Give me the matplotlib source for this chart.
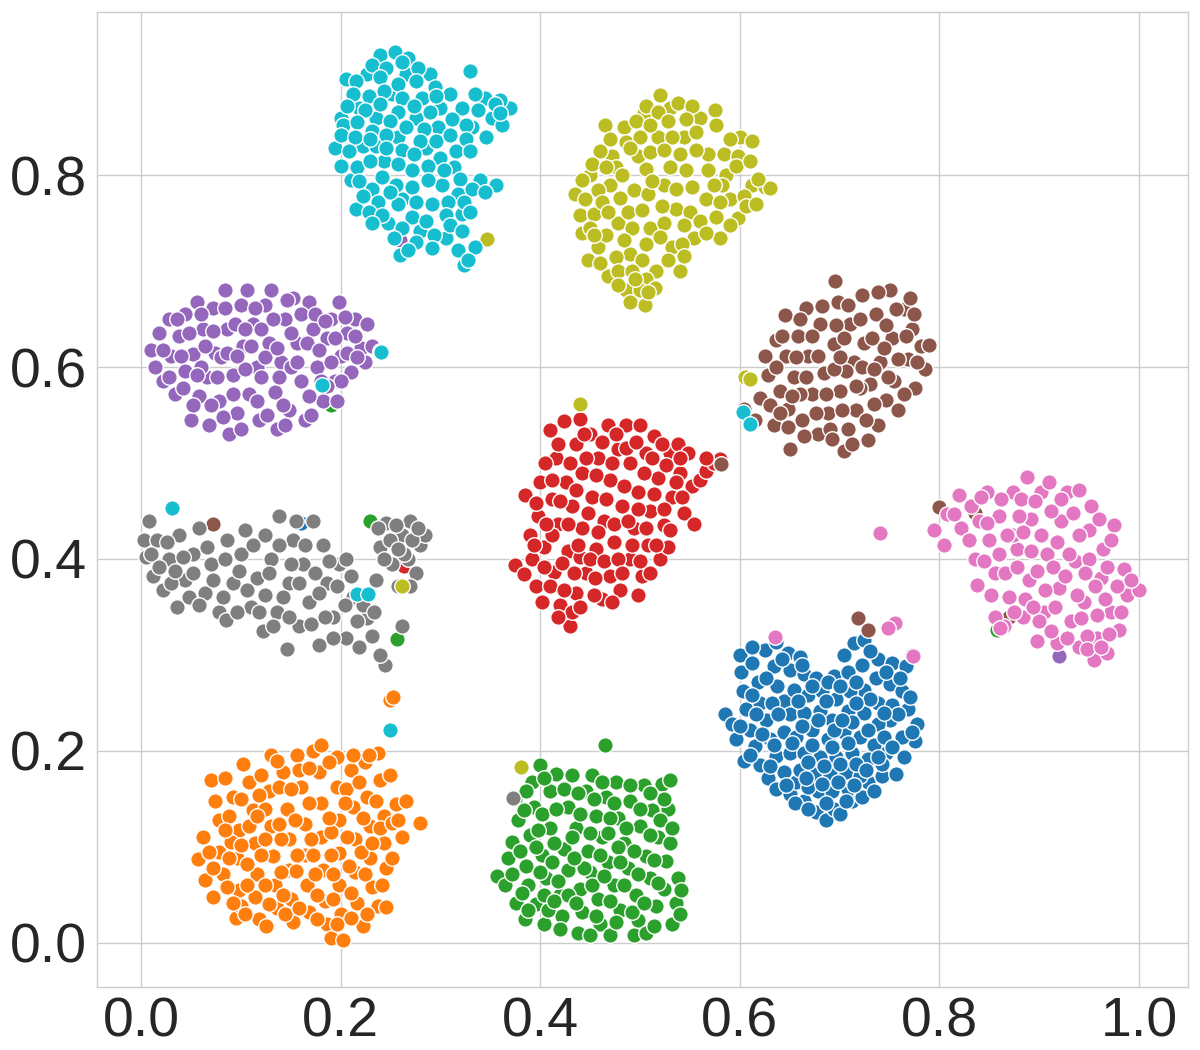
import matplotlib
matplotlib.use("Agg")
import matplotlib.pyplot as plt
import numpy as np
import seaborn as sns

# all coordinates, in thousandths of an axis unit
blue = [(585,238),(592,228),(596,212),(604,190),(600,300),(601,282),(603,262),(606,244),(610,222),(615,205),(620,185),(628,172),(636,160),(650,155),(612,292),(618,272),(620,250),(626,232),(630,212),(636,195),(644,178),(656,168),(664,148),(676,136),(686,128),(694,140),(712,148),(722,152),(728,168),(742,174),(756,176),(625,305),(636,314),(648,302),(660,298),(634,288),(637,268),(650,284),(664,280),(676,276),(644,252),(654,264),(668,258),(682,262),(694,278),(704,300),(714,312),(724,316),(738,296),(752,292),(766,288),(772,300),(708,282),(722,290),(736,276),(750,270),(762,262),(768,244),(778,228),(775,210),(762,214),(764,194),(746,198),(750,232),(738,250),(724,264),(710,262),(696,254),(650,238),(664,240),(680,242),(692,232),(708,242),(724,240),(738,228),(752,248),(644,220),(656,214),(672,222),(688,212),(704,220),(720,214),(734,206),(650,198),(664,198),(680,194),(696,194),(712,198),(728,192),(742,186),(660,180),(674,176),(690,176),(706,178),(720,174),(734,158),(678,158),(692,158),(708,160),(668,162),(655,146),(700,134),
 (612,308),(642,296),(626,276),(612,258),(632,250),(616,238),(600,226),(638,238),(622,218),(610,196),(634,206),(630,184),(646,164),(662,290),(672,268),(688,272),(700,268),(716,272),(730,304),(746,282),(760,276),(770,256),(758,238),(744,214),(772,220),(752,204),(738,194),(716,186),(700,186),(684,184),(668,188),(652,208),(662,226),(678,232),(694,222),(712,230),(728,222),(744,240),(730,254),(716,250),(702,232),(686,252),(672,206),(692,204),(708,208),(726,180),(714,164),(698,168),(682,166),(666,172),(686,146),(668,140),(706,148),(658,252)]
orange = [(57,87),(62,110),(64,65),(70,170),(72,48),(74,148),(78,128),(78,95),(82,72),(84,172),(92,152),(95,26),(98,118),(96,88),(98,55),(100,38),(102,186),(108,168),(112,138),(114,104),(116,72),(114,48),(118,25),(125,18),(130,196),(128,158),(130,122),(132,90),(134,60),(136,36),(142,178),(146,140),(148,108),(148,76),(150,46),(152,22),(156,196),(160,162),(164,124),(164,92),(166,60),(168,32),(172,200),(178,178),(180,146),(180,110),(182,76),(184,44),(186,20),(180,206),(190,5),(202,3),(196,194),(196,162),(198,128),(198,94),(198,60),(200,30),(210,180),(212,142),(214,108),(214,74),(216,42),(224,188),(226,152),(230,122),(230,88),(232,58),(222,18),(238,198),(240,170),(244,132),(244,104),(246,78),(238,38),(246,37),(252,88),(256,145),(262,110),(266,148),(280,125),(250,175),(120,175),(88,132),(90,105),(106,82),(124,140),(140,108),(172,92),(190,115),(220,95),(205,160),(155,75),(128,40),
 (68,95),(72,78),(84,118),(86,58),(88,88),(92,42),(104,30),(100,150),(100,102),(106,60),(108,122),(118,154),(120,92),(124,60),(124,108),(136,190),(138,162),(138,124),(140,74),(142,50),(144,30),(150,160),(154,128),(156,92),(158,36),(158,180),(168,146),(170,108),(174,72),(176,50),(176,25),(188,188),(188,130),(190,92),(192,46),(192,72),(196,20),(204,146),(206,110),(208,80),(210,52),(210,26),(218,168),(222,130),(224,72),(226,30),(232,104),(236,148),(240,120),(242,60),(228,196),(212,196),(252,125),(258,128),(168,182),(116,132)]
green = [(357,70),(365,60),(368,88),(372,105),(375,150),(378,128),(376,42),(385,25),(386,80),(388,60),(390,112),(392,168),(394,142),(396,40),(400,185),(402,92),(404,20),(406,68),(410,158),(410,120),(416,176),(420,50),(422,28),(424,98),(428,142),(428,76),(432,175),(436,120),(438,10),(440,56),(442,32),(446,158),(448,96),(450,74),(452,175),(456,132),(458,46),(460,20),(462,110),(466,152),(468,84),(470,8),(474,60),(476,168),(478,130),(480,34),(484,104),(488,78),(490,148),(494,8),(496,50),(498,24),(500,122),(504,165),(506,90),(510,68),(512,138),(516,38),(518,110),(522,166),(524,56),(526,85),(528,140),(530,170),(532,20),(536,42),(538,68),(541,55),(524,150),(506,10),(478,100),(444,78),(414,104),(398,118),(540,30),(404,50),(428,50),(470,130),(492,32),
 (372,72),(380,96),(382,52),(384,138),(386,158),(400,74),(402,134),(404,172),(408,34),(412,84),(416,140),(418,64),(420,14),(424,160),(432,110),(434,88),(436,42),(438,156),(440,134),(450,114),(452,60),(454,150),(456,28),(460,92),(462,168),(464,70),(468,114),(470,44),(474,146),(476,22),(480,84),(484,60),(486,120),(490,164),(494,96),(498,72),(500,140),(504,42),(510,112),(514,18),(514,86),(518,62),(520,128),(530,104),(532,120),(510,156),(396,100),(414,44),(388,34),(450,8)]
red = [(375,394),(384,384),(385,467),(390,425),(392,400),(396,372),(398,445),(400,480),(402,355),(404,412),(410,534),(412,462),(414,386),(416,505),(418,436),(420,352),(424,544),(426,480),(428,408),(430,330),(432,455),(436,520),(436,365),(440,546),(442,490),(442,432),(446,385),(450,530),(452,465),(456,410),(458,505),(462,358),(464,440),(468,540),(470,482),(470,382),(474,418),(478,515),(480,368),(482,455),(486,540),(490,500),(490,400),(494,432),(498,470),(500,540),(502,382),(506,510),(508,415),(510,450),(514,528),(518,484),(520,400),(524,435),(528,412),(530,510),(532,465),(538,520),(540,490),(544,448),(548,510),(552,476),(554,436),(560,482),(566,492),(574,500),(580,504),(566,505),(405,500),(440,402),(455,380),(498,362),(412,425),
 (394,415),(396,458),(404,392),(406,436),(410,372),(412,482),(418,520),(420,460),(422,396),(424,368),(428,436),(430,500),(432,345),(434,385),(436,472),(438,415),(444,530),(446,505),(448,448),(450,400),(454,362),(456,488),(458,428),(462,522),(464,398),(466,462),(472,500),(474,436),(476,530),(478,400),(482,385),(484,476),(486,516),(488,440),(492,415),(496,522),(498,452),(500,398),(504,490),(506,432),(512,505),(514,468),(516,415),(522,520),(524,452),(526,498),(530,430),(536,480),(540,505),(542,465),(472,355),(418,340),(440,350),(510,385)]
purple = [(10,618),(14,600),(18,635),(22,585),(28,650),(30,612),(34,572),(38,632),(44,655),(44,596),(50,545),(52,614),(56,668),(58,570),(62,640),(66,590),(68,540),(72,662),(74,615),(78,565),(84,680),(86,640),(88,530),(92,592),(96,552),(100,665),(102,622),(106,680),(108,572),(112,645),(116,600),(118,545),(124,665),(128,625),(130,680),(134,574),(136,535),(140,605),(144,650),(148,555),(152,672),(156,625),(160,585),(164,545),(168,668),(172,640),(176,600),(182,565),(186,630),(190,650),(194,585),(198,668),(200,612),(206,635),(210,595),(214,650),(220,620),(226,645),(224,605),(232,622),(240,617),(196,565),(28,590),(60,600),(120,590),(150,600),(104,598),(80,610),
 (22,618),(36,650),(40,612),(42,578),(48,635),(52,560),(56,592),(60,655),(64,622),(70,560),(72,638),(76,590),(82,548),(84,662),(86,615),(92,572),(94,645),(96,612),(100,535),(104,640),(110,622),(114,662),(116,565),(120,640),(124,610),(126,550),(132,650),(136,620),(138,590),(142,560),(146,670),(150,635),(156,605),(160,655),(166,625),(168,570),(174,655),(178,618),(180,585),(184,648),(190,605),(194,630),(204,652),(206,615),(214,632),(216,610),(200,585),(186,580),(144,540),(170,550)]
brown = [(615,545),(620,568),(625,612),(628,592),(634,540),(640,575),(645,654),(646,612),(648,556),(650,515),(654,590),(658,632),(662,545),(666,662),(668,612),(672,572),(678,530),(680,645),(684,594),(688,552),(695,690),(694,624),(698,668),(700,575),(704,513),(708,535),(710,645),(714,605),(716,555),(722,675),(724,625),(728,524),(730,582),(736,655),(738,540),(740,605),(746,566),(750,680),(752,630),(754,585),(758,555),(764,660),(768,608),(772,640),(776,578),(782,622),(790,623),(786,598),(770,672),(604,556),(660,572),(706,596),(636,628),(694,598),(720,578),
 (630,560),(636,600),(642,632),(648,538),(652,570),(656,610),(660,650),(664,528),(666,590),(672,632),(676,552),(678,612),(682,664),(686,572),(690,535),(696,644),(700,610),(702,555),(704,630),(708,665),(712,520),(716,580),(720,650),(722,600),(726,545),(732,630),(734,562),(738,678),(744,620),(746,644),(748,590),(756,660),(758,608),(764,572),(766,632),(774,655),(778,605),(692,525),(640,552),(734,598)]
pink = [(795,430),(805,415),(808,447),(820,467),(822,432),(832,455),(836,400),(838,373),(848,470),(850,420),(856,385),(860,445),(865,330),(870,360),(874,470),(878,410),(884,340),(888,485),(890,378),(892,442),(902,470),(905,345),(908,405),(918,312),(920,370),(922,440),(928,470),(932,335),(936,398),(940,472),(945,355),(950,430),(955,295),(958,318),(962,380),(964,410),(975,435),(972,345),(980,326),(985,390),(988,362),(1000,368),(968,302),(940,308),(898,315),(880,445),(950,400),(912,450),(874,425),
 (815,447),(830,420),(840,440),(842,465),(845,398),(848,438),(852,362),(860,405),(862,462),(866,385),(868,425),(875,345),(878,392),(882,462),(884,428),(886,358),(892,408),(896,460),(898,388),(900,335),(902,425),(906,368),(910,480),(912,325),(914,392),(916,350),(918,418),(922,462),(926,382),(928,318),(930,405),(934,448),(938,362),(940,425),(942,338),(946,385),(948,320),(952,455),(956,372),(958,342),(960,442),(966,358),(968,392),(970,322),(972,420),(978,372),(982,345),(992,378),(948,306),(962,308),(856,340),(894,350)]
gray = [(3,420),(5,402),(8,440),(12,382),(16,420),(22,368),(28,400),(36,350),(38,425),(44,378),(52,405),(58,432),(64,365),(70,395),(78,345),(85,336),(86,420),(92,375),(100,405),(104,430),(110,350),(116,380),(122,325),(124,425),(130,400),(136,345),(138,445),(146,306),(148,375),(152,420),(158,330),(162,395),(168,355),(172,440),(178,310),(182,415),(186,375),(192,340),(198,395),(205,318),(212,360),(218,308),(226,338),(232,320),(245,290),(236,378),(240,412),(246,438),(252,395),(258,372),(262,425),(270,440),(276,385),(280,415),(285,425),(268,400),(240,300),
 (10,405),(18,392),(26,418),(30,375),(34,388),(42,402),(48,360),(52,385),(58,352),(66,412),(72,378),(82,360),(84,400),(96,345),(98,388),(106,368),(112,415),(118,345),(124,362),(128,385),(132,330),(138,415),(142,360),(148,340),(150,395),(155,440),(158,375),(164,415),(170,332),(174,385),(178,365),(184,340),(188,398),(192,318),(196,372),(204,352),(210,382),(216,335),(222,352),(234,345),(238,432),(244,400),(250,420),(256,435),(264,405),(272,420),(278,432),(270,372),(258,410),(205,400)]
olive = [(435,780),(440,758),(442,740),(448,712),(450,800),(454,760),(458,725),(465,852),(468,695),(470,790),(472,820),(478,750),(484,850),(486,680),(490,668),(490,718),(494,785),(498,820),(504,865),(505,665),(510,745),(516,700),(518,840),(520,883),(524,790),(530,870),(532,725),(536,765),(544,840),(546,805),(554,735),(560,860),(566,775),(568,822),(575,868),(580,735),(586,800),(590,775),(600,840),(612,836),(612,790),(625,788),(630,787),(598,755),(540,700),(476,715),
 (506,872),(518,866),(538,875),(552,872),(496,856),(510,852),(528,856),(546,858),(576,852),(470,838),(486,835),(500,840),(532,840),(556,845),(590,838),(460,825),(476,808),(490,828),(510,824),(524,826),(540,822),(556,826),(584,822),(598,820),(452,812),(466,808),(482,800),(506,806),(530,808),(552,788),(568,805),(582,790),(596,810),(610,815),(442,795),(458,785),(480,776),(508,780),(512,794),(536,786),(574,790),(604,778),(618,796),(445,775),(462,772),(488,762),(502,764),(522,768),(550,762),(580,772),(606,768),(450,745),(466,738),(492,745),(506,728),(524,750),(544,748),(560,752),(576,756),(590,748),(454,738),(468,762),(484,732),(502,712),(520,736),(542,728),(566,740),(460,708),(478,700),(492,700),(506,692),(528,712),(544,716),(478,685),(500,680),(515,682),(495,692),(508,678),(616,770)]
cyan = [(194,828),(200,860),(205,900),(210,795),(215,765),(218,870),(222,830),(226,905),(232,786),(236,860),(240,925),(244,815),(248,750),(252,885),(255,928),(258,840),(260,717),(262,775),(266,905),(268,922),(272,805),(276,860),(280,742),(282,880),(286,828),(290,905),(292,770),(298,850),(302,790),(306,735),(310,885),(316,825),(322,760),(324,706),(330,908),(332,850),(335,725),(340,795),(345,880),(352,860),(356,790),(362,852),(370,870),(346,840),(236,830),(258,770),(300,870),
 (232,915),(246,912),(262,918),(278,912),(215,898),(240,902),(258,895),(276,898),(295,892),(212,885),(228,882),(244,888),(262,880),(296,882),(335,885),(360,878),(206,872),(224,868),(240,874),(258,866),(274,872),(290,866),(322,870),(338,868),(355,874),(202,852),(216,855),(232,846),(250,856),(266,850),(284,848),(312,858),(326,852),(360,865),(200,842),(214,840),(230,838),(246,842),(262,826),(280,836),(296,836),(310,842),(326,838),(208,825),(246,828),(274,822),(300,818),(314,808),(330,825),(200,810),(216,808),(230,815),(258,812),(288,810),(304,805),(320,796),(218,794),(242,798),(256,790),(272,788),(288,795),(318,780),(332,786),(222,778),(238,772),(250,782),(276,772),(308,772),(324,772),(345,782),(228,762),(242,758),(272,756),(286,752),(306,758),(330,762),(232,750),(262,745),(276,730),(294,738),(310,748),(322,742),(254,735),(268,722),(292,724),(318,722),(328,712)]
olive_extra = [(440,561),(347,733),(381,183),(262,372),(605,590),(610,588)]
pink_extra = [(740,427),(490,672),(635,319),(755,333),(773,299),(861,328),(748,328)]
cyan_extra = [(31,453),(241,616),(216,364),(227,364),(250,222),(181,581),(603,553),(610,541)]
green_extra = [(257,317),(465,206),(858,326),(190,560),(230,440)]
orange_extra = [(250,253),(253,256)]
gray_extra = [(373,151),(262,330)]
blue_extra = [(158,440),(160,438)]
purple_extra = [(920,299),(260,732)]
brown_extra = [(72,436),(800,454),(836,448),(718,338),(728,326),(870,340),(581,499)]
red_extra = [(264,393)]

x_ticks = [0.0, 0.2, 0.4, 0.6, 0.8, 1.0]
y_ticks = [0.0, 0.2, 0.4, 0.6, 0.8]

sns.set_style("whitegrid")
plt.rcParams['font.family'] = ['Liberation Sans', 'DejaVu Sans']

fig = plt.figure(figsize=(12, 10.5), dpi=100)
ax = fig.add_axes([97/1200, 1 - 987/1050, (1188-97)/1200, (987-12)/1050])

groups = [
    (blue, blue_extra, '#1f77b4'), (orange, orange_extra, '#ff7f0e'),
    (green, green_extra, '#2ca02c'), (red, red_extra, '#d62728'),
    (purple, purple_extra, '#9467bd'), (brown, brown_extra, '#8c564b'),
    (pink, pink_extra, '#e377c2'), (gray, gray_extra, '#7f7f7f'),
    (olive, olive_extra, '#bcbd22'), (cyan, cyan_extra, '#17becf'),
]
for pts, extra, col in groups:
    a = np.array(pts + extra) / 1000
    ax.scatter(a[:, 0], a[:, 1], s=125, c=col, edgecolors='white', linewidths=1.0, zorder=3)

ax.set_xlim(-0.044, 1.049)
ax.set_ylim(-0.046, 0.97)
ax.set_xticks(x_ticks)
ax.set_yticks(y_ticks)
ax.tick_params(labelsize=40, labelcolor='#262626')
ax.grid(True, color='#cccccc', linewidth=1.0)
for s in ax.spines.values():
    s.set_color('#cccccc')
    s.set_linewidth(1.0)
fig.savefig('out.png', dpi=100)
